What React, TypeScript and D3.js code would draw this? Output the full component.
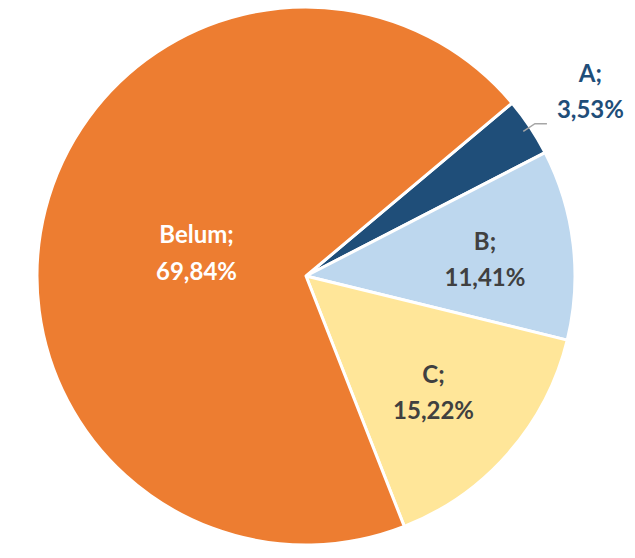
import React, { useEffect, useRef } from "react";
import * as d3 from "d3";

const categories = ["A", "B", "C", "Belum"];
const values = [3.53, 11.41, 15.22, 69.84];
const labels = ["3,53%", "11,41%", "15,22%", "69,84%"];
const colors = ["#1F4E79", "#BDD7EE", "#FFE699", "#ED7D31"];
const textColors = ["#1F4E79", "#404040", "#404040", "#FFFFFF"];

export default function App() {
  const ref = useRef<SVGSVGElement>(null);

  useEffect(() => {
    const svg = d3.select(ref.current);
    svg.selectAll("*").remove();

    const cx = 306, cy = 276, r = 269;
    // where each label sits, as a fraction of the radius
    const labelRadius = [1.27, 0.67, 0.63, 0.42];

    const pie = d3
      .pie<number>()
      .sort(null)
      .startAngle((50 * Math.PI) / 180)
      .endAngle((50 * Math.PI) / 180 + 2 * Math.PI);
    const arcs = pie(values);

    const arc = d3.arc<d3.PieArcDatum<number>>().innerRadius(0).outerRadius(r);

    const g = svg.append("g").attr("transform", `translate(${cx},${cy})`);

    g.selectAll("path.slice")
      .data(arcs)
      .enter()
      .append("path")
      .attr("class", "slice")
      .attr("d", arc)
      .attr("fill", (d, i) => colors[i])
      .attr("stroke", "#fff")
      .attr("stroke-width", 3)
      .attr("stroke-linejoin", "round");

    // leader line for the small slice
    const a0 = arcs[0];
    const mid = (a0.startAngle + a0.endAngle) / 2;
    const p1 = [Math.sin(mid) * (r - 8), -Math.cos(mid) * (r - 8)];
    const p2 = [Math.sin(mid) * (r + 6), -Math.cos(mid) * (r + 6)];
    g.append("polyline")
      .attr("points", `${p1[0]},${p1[1]} ${p2[0]},${p2[1]} ${p2[0] + 12},${p2[1]}`)
      .attr("fill", "none")
      .attr("stroke", "#A6A6A6")
      .attr("stroke-width", 1.5);

    arcs.forEach((d, i) => {
      const m = (d.startAngle + d.endAngle) / 2;
      const lr = r * labelRadius[i];
      const x = Math.sin(m) * lr;
      const y = -Math.cos(m) * lr;
      const t = g
        .append("text")
        .attr("x", x)
        .attr("y", y)
        .attr("text-anchor", "middle")
        .attr("fill", textColors[i])
        .style("font-family", "Lato, 'Open Sans', sans-serif")
        .style("font-weight", "bold")
        .style("font-size", "24px");
      t.append("tspan").attr("x", x).attr("dy", "-0.2em").text(categories[i] + ";");
      t.append("tspan").attr("x", x).attr("dy", "1.52em").text(labels[i]);
    });
  }, []);

  return (
    <svg
      ref={ref}
      width={635}
      height={558}
      style={{ position: "absolute", left: 0, top: 0, background: "#fff" }}
    />
  );
}
